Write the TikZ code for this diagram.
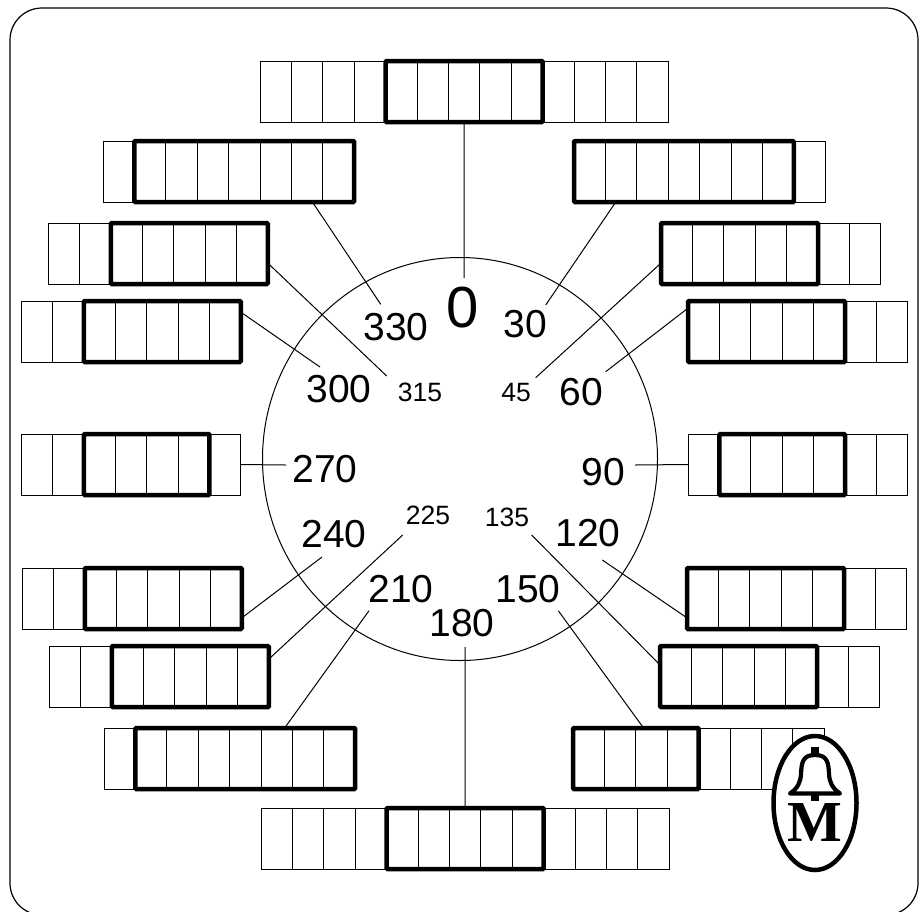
\documentclass[tikz,border=0pt]{standalone}
\usepackage{fontspec}
\setmainfont{Liberation Sans}
\newfontfamily\serifa{Liberation Serif}
\usepackage{tikz}
\usetikzlibrary{shapes.geometric}

\begin{document}
\begin{tikzpicture}[
  x=1pt, y=-1pt,
  fino/.style={line width=1pt},
  fila/.style={rectangle, draw, line width=1pt, minimum height=61pt, inner sep=0, outer sep=0},
  bloque/.style={rectangle, draw, line width=4.5pt, rounded corners=1pt, minimum height=61pt, inner sep=0, outer sep=0},
  num/.style={inner sep=0, font=\fontsize{39}{41}\selectfont},
  chico/.style={inner sep=0, font=\fontsize{26.5}{28}\selectfont},
  grande/.style={inner sep=0, font=\fontsize{58}{60}\selectfont},
  sello/.style={ellipse, draw, fill=white, line width=4.5pt, minimum width=83pt, minimum height=134pt, inner sep=0}
]
  \clip (0,0) rectangle (920,911);
  \draw[line width=1.2pt, rounded corners=32pt] (10,8) rectangle (918,915);
  \coordinate (centro) at (460,459);
  \draw[fino] (centro) ellipse [x radius=197.5pt, y radius=201.5pt];

  \foreach \nom/\xa/\ya/\nl/\nb/\nr in {
    0/260/61/4/5/4, 330/103/141/1/7/0, 30/574/141/0/7/1,
    315/48/223/2/5/0, 45/661/223/0/5/2, 300/21/301/2/5/0,
    60/688/301/0/5/2, 270/21/434/2/4/1, 90/688/434/1/4/2,
    240/22/568/2/5/0, 120/687/568/0/5/2, 225/49/646/2/5/0,
    135/660/646/0/5/2, 210/104/728/1/7/0, 150/573/728/0/4/4,
    180/261/808/4/5/4}{
    \pgfmathsetmacro{\nt}{int(\nl+\nb+\nr)}
    \node[fila, anchor=north west, minimum width=\nt*31.4pt] (fila\nom) at (\xa,\ya) {};
    \foreach \i in {1,...,\nt}
      \draw[fino] (\xa+\i*31.4,\ya) -- ++(0,61);
    \node[bloque, anchor=north west, minimum width=\nb*31.4pt] (bloque\nom) at (\xa+\nl*31.4,\ya) {};
  }

  \node[grande] (lab0) at (463,308) {0};
  \node[num] (lab30) at (525,324) {30};
  \node[chico] (lab45) at (516,393) {45};
  \node[num] (lab60) at (581,392) {60};
  \node[num] (lab90) at (603,472) {90};
  \node[num] (lab120) at (588,533) {120};
  \node[chico] (lab135) at (507,517) {135};
  \node[num] (lab150) at (528,589) {150};
  \node[num] (lab180) at (462,623) {180};
  \node[num] (lab210) at (401,589) {210};
  \node[chico] (lab225) at (428,515) {225};
  \node[num] (lab240) at (334,534) {240};
  \node[num] (lab270) at (325,469) {270};
  \node[num] (lab300) at (339,389) {300};
  \node[chico] (lab315) at (420,392) {315};
  \node[num] (lab330) at (396,327) {330};

  \foreach \nom/\ang/\xe/\ye in {
    0/-90/464/278, 30/200.3/545.7/305, 45/185.5/535.7/377.7, 60/168.9/605.7/371.7,
    90/180/635/465, 120/190.6/602.3/560, 135/174.5/531.7/535, 150/151.8/558.3/610.7,
    180/90/465/647, 210/29.3/369/610.7, 225/9.55/402.7/535, 240/-10/322/557,
    270/0/286/465, 300/10.2/320/367, 315/-5.98/386.7/376, 330/-20.9/380.7/304.3}{
    \coordinate (fin\nom) at (\xe,\ye);
    \draw[fino] (fila\nom.\ang) -- (fin\nom);
  }

  \node[sello] (logo) at (815,803) {};
  \node[inner sep=0, font=\serifa\bfseries\fontsize{58}{60}\selectfont] (logoM) at (815,822) {M};
  \begin{scope}[shift={(815,0)}]
    \fill (-4,747) rectangle (4,755);
    \fill (-4,793) rectangle (4,801);
    \draw[line width=4.2pt, line join=round, fill=white] (-25,793.5)
      .. controls (-17,788) and (-14.5,782) .. (-14,774)
      .. controls (-13.5,762) and (-12,755) .. (0,755)
      .. controls (12,755) and (13.5,762) .. (14,774)
      .. controls (14.5,782) and (17,788) .. (25,793.5) -- cycle;
  \end{scope}
\end{tikzpicture}
\end{document}
